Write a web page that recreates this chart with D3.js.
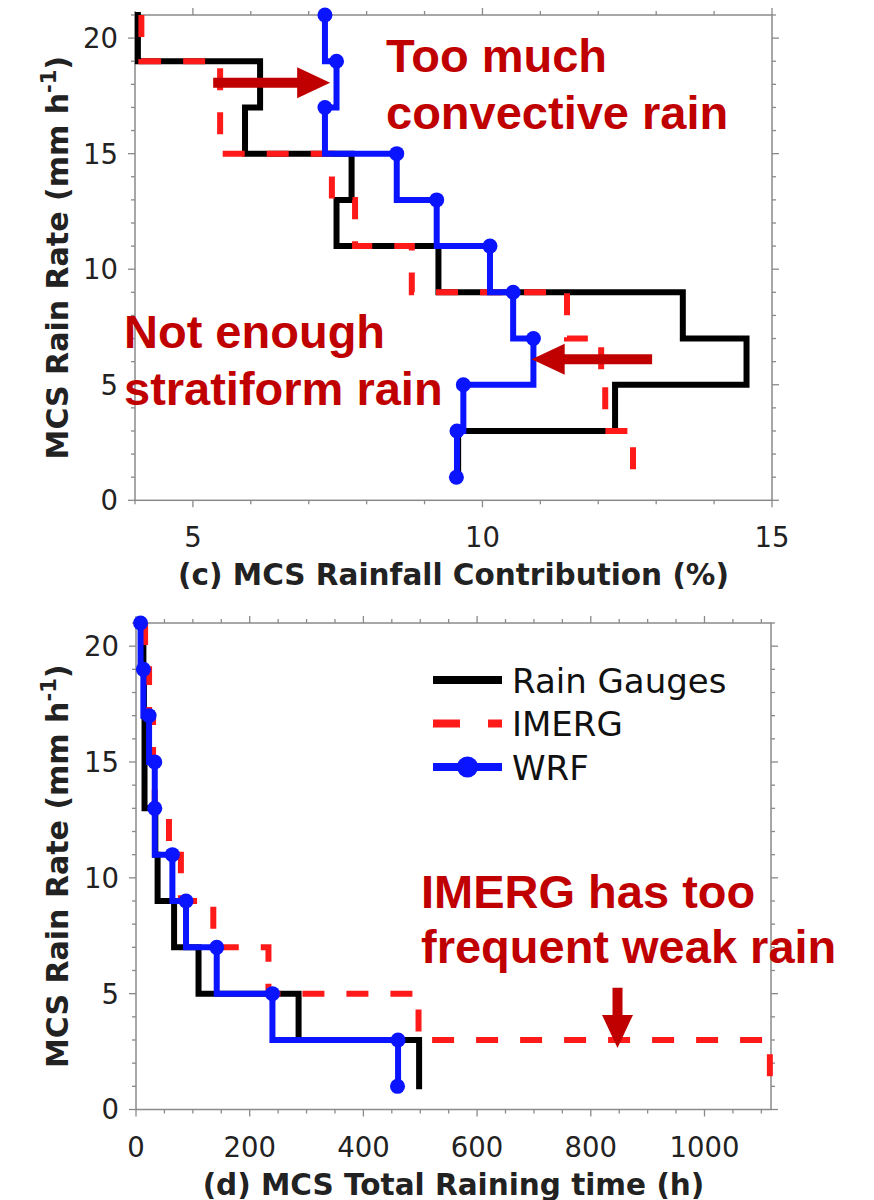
<!DOCTYPE html>
<html>
<head>
<meta charset="utf-8">
<script src="https://cdn.jsdelivr.net/npm/d3@7"></script>
<style>
  html, body { margin: 0; padding: 0; background: #fff; }
  svg { display: block; }
</style>
</head>
<body>
<script>
// MCS rain-rate bins (mm/h), plotted top to bottom
const rates = [21, 19, 17, 15, 13, 11, 9, 7, 5, 3, 1];

// (c) contribution of each rain-rate bin to MCS rainfall (%)
const contribGauges = [4.05, 6.16, 5.9, 7.74, 7.48, 9.24, 13.46, 14.56, 12.29, 9.58, 9.58];
const contribImerg  = [4.11, 5.47, 5.47, 7.4, 7.8, 8.78, 11.46, 12.05, 12.12, 12.6, 12.6];
const contribWrf    = [7.28, 7.48, 7.28, 8.52, 9.21, 10.13, 10.53, 10.88, 9.67, 9.56, 9.55];

// (d) total MCS raining time in each rain-rate bin (h)
const timeGauges = [13, 14, 15, 15, 34, 38, 67, 110, 286, 498, 498];
const timeImerg  = [16, 23, 30, 33, 58, 79, 136, 233, 497, 1115, 1115];
const timeWrf    = [8, 13, 23, 33, 33, 64, 88, 142, 240, 461, 460];

// axis ticks
const contribMajor = [5, 10, 15];
const timeMajor = [0, 200, 400, 600, 800, 1000];
const rateMajor = [0, 5, 10, 15, 20];

const seriesNames = ["Rain Gauges", "IMERG", "WRF"];

const W = 874, H = 1200;
const DARKRED = "#c00000";
const AXIS = "#8a8a8a";

const svg = d3.select("body").append("svg")
  .attr("width", W).attr("height", H)
  .attr("viewBox", `0 0 ${W} ${H}`);
svg.append("rect").attr("width", W).attr("height", H).attr("fill", "#fff");

const styles = {
  "Rain Gauges": { color: "#000", dash: null, cap: "square" },
  "IMERG": { color: "#ff1a1a", dash: "22,22", cap: "butt" },
  "WRF": { color: "#0a14ff", dash: null, cap: "square", dots: true }
};

function panel(opts) {
  const g = svg.append("g");
  const { x, y, xMajor, xMinorStep, xLabel, series } = opts;
  const [x0, x1] = x.range();
  const [y0, y1] = y.range();

  // spines
  g.append("rect")
    .attr("x", x0).attr("y", y1)
    .attr("width", x1 - x0).attr("height", y0 - y1)
    .attr("fill", "none").attr("stroke", AXIS).attr("stroke-width", 1.5);

  // ticks on all four sides, pointing outward
  const xd = x.domain(), yd = y.domain();
  const xMinor = d3.range(Math.ceil(xd[0] / xMinorStep) * xMinorStep, xd[1] + 1e-9, xMinorStep);
  const yMinor = d3.range(0, yd[1] + 1e-9, 1);
  const tickLen = v => 0;
  xMinor.forEach(v => {
    const L = xMajor.includes(v) ? 7 : 4;
    g.append("line").attr("x1", x(v)).attr("x2", x(v)).attr("y1", y0).attr("y2", y0 + L)
      .attr("stroke", AXIS).attr("stroke-width", 1.3);
    g.append("line").attr("x1", x(v)).attr("x2", x(v)).attr("y1", y1).attr("y2", y1 - L)
      .attr("stroke", AXIS).attr("stroke-width", 1.3);
  });
  yMinor.forEach(v => {
    const L = rateMajor.includes(v) ? 7 : 4;
    g.append("line").attr("y1", y(v)).attr("y2", y(v)).attr("x1", x0).attr("x2", x0 - L)
      .attr("stroke", AXIS).attr("stroke-width", 1.3);
    g.append("line").attr("y1", y(v)).attr("y2", y(v)).attr("x1", x1).attr("x2", x1 + L)
      .attr("stroke", AXIS).attr("stroke-width", 1.3);
  });

  // tick labels
  g.selectAll(null).data(xMajor).join("text")
    .attr("x", d => x(d)).attr("y", y0 + 47)
    .attr("text-anchor", "middle")
    .attr("font-family", "DejaVu Sans").attr("font-size", 27.5).attr("fill", "#222")
    .text(d => d);
  g.selectAll(null).data(rateMajor).join("text")
    .attr("x", x0 - 17).attr("y", d => y(d))
    .attr("dy", "0.36em")
    .attr("text-anchor", "end")
    .attr("font-family", "DejaVu Sans").attr("font-size", 27.5).attr("fill", "#222")
    .text(d => d);

  // axis titles
  g.append("text")
    .attr("x", (x0 + x1) / 2).attr("y", y0 + 85)
    .attr("text-anchor", "middle")
    .attr("font-family", "DejaVu Sans").attr("font-weight", "bold")
    .attr("font-size", 29.5).attr("fill", "#222")
    .text(xLabel);
  const yl = g.append("text")
    .attr("transform", `translate(68,${(y0 + y1) / 2}) rotate(-90)`)
    .attr("text-anchor", "middle")
    .attr("font-family", "DejaVu Sans").attr("font-weight", "bold")
    .attr("font-size", 30).attr("fill", "#222");
  yl.append("tspan").text("MCS Rain Rate (mm h");
  yl.append("tspan").attr("dy", -12).attr("font-size", 21).text("-1");
  yl.append("tspan").attr("dy", 12).text(")");

  // step profiles: rate changes first, then the value
  const line = d3.line()
    .x(d => x(d.v)).y(d => y(d.r))
    .curve(d3.curveStepBefore);

  series.forEach(s => {
    const st = styles[s.name];
    const pts = rates.map((r, i) => ({ r, v: s.values[i] }));
    g.append("path")
      .attr("d", line(pts))
      .attr("fill", "none")
      .attr("stroke", st.color)
      .attr("stroke-width", 6)
      .attr("stroke-linecap", st.cap)
      .attr("stroke-linejoin", "miter")
      .attr("stroke-dasharray", st.dash);
    if (st.dots) {
      g.selectAll(null).data(pts).join("circle")
        .attr("cx", d => x(d.v)).attr("cy", d => y(d.r))
        .attr("r", 7.5).attr("fill", st.color);
    }
  });
  return g;
}

// ---------- panel (c) ----------
const xC = d3.scaleLinear().domain([4, 15]).range([135, 772]);
const yC = d3.scaleLinear().domain([0, 21]).range([500.3, 15]);
const gC = panel({
  x: xC, y: yC, xMajor: contribMajor, xMinorStep: 1,
  xLabel: "(c) MCS Rainfall Contribution (%)",
  series: [
    { name: "Rain Gauges", values: contribGauges },
    { name: "IMERG", values: contribImerg },
    { name: "WRF", values: contribWrf }
  ]
});

// ---------- panel (d) ----------
const xD = d3.scaleLinear().domain([0, 1117]).range([136, 771]);
const yD = d3.scaleLinear().domain([0, 21]).range([1109.5, 623]);
const gD = panel({
  x: xD, y: yD, xMajor: timeMajor, xMinorStep: 50,
  xLabel: "(d) MCS Total Raining time (h)",
  series: [
    { name: "Rain Gauges", values: timeGauges },
    { name: "IMERG", values: timeImerg },
    { name: "WRF", values: timeWrf }
  ]
});

// legend in panel (d)
const legend = svg.append("g");
seriesNames.forEach((name, i) => {
  const st = styles[name];
  const ly = 680 + i * 43.5;
  legend.append("line")
    .attr("x1", 433).attr("x2", 502).attr("y1", ly).attr("y2", ly)
    .attr("stroke", st.color).attr("stroke-width", 8)
    .attr("stroke-dasharray", st.dash ? "27,28" : null);
  if (st.dots) {
    legend.append("circle").attr("cx", 467.5).attr("cy", ly).attr("r", 10.5).attr("fill", st.color);
  }
  legend.append("text")
    .attr("x", 512).attr("y", ly + 12.5)
    .attr("font-family", "DejaVu Sans").attr("font-size", 34).attr("fill", "#111")
    .text(name);
});

// ---------- annotations ----------
function arrow(g, x1, y1, x2, y2) {
  // block arrow from (x1,y1) to the tip at (x2,y2)
  const dx = x2 - x1, dy = y2 - y1;
  const len = Math.hypot(dx, dy);
  const ang = Math.atan2(dy, dx) * 180 / Math.PI;
  const head = 33, hw = 15.5, sw = 5;
  const pts = [[0, -sw], [len - head, -sw], [len - head, -hw], [len, 0],
               [len - head, hw], [len - head, sw], [0, sw]];
  g.append("polygon")
    .attr("points", pts.map(p => p.join(",")).join(" "))
    .attr("transform", `translate(${x1},${y1}) rotate(${ang})`)
    .attr("fill", DARKRED);
}

// arrows anchored in data coordinates
const arrowsC = [
  { from: [5.35, 18.07], to: [7.37, 18.07] },
  { from: [12.93, 6.1], to: [10.85, 6.1] }
];
const arrowsD = [
  { from: [847, 5.26], to: [847, 2.66] }
];
arrowsC.forEach(a => arrow(svg, xC(a.from[0]), yC(a.from[1]), xC(a.to[0]), yC(a.to[1])));
arrowsD.forEach(a => arrow(svg, xD(a.from[0]), yD(a.from[1]), xD(a.to[0]), yD(a.to[1])));

const notes = [
  { x: 386, y: 72, t: "Too much" },
  { x: 386, y: 129, t: "convective rain" },
  { x: 124, y: 348, t: "Not enough" },
  { x: 124, y: 405, t: "stratiform rain" },
  { x: 421, y: 908, t: "IMERG has too" },
  { x: 421, y: 963, t: "frequent weak rain" }
];
svg.selectAll(null).data(notes).join("text")
  .attr("x", d => d.x).attr("y", d => d.y)
  .attr("font-family", "Liberation Sans, Arial, sans-serif")
  .attr("font-weight", "bold").attr("font-size", 47)
  .attr("fill", DARKRED)
  .text(d => d.t);
</script>
</body>
</html>
